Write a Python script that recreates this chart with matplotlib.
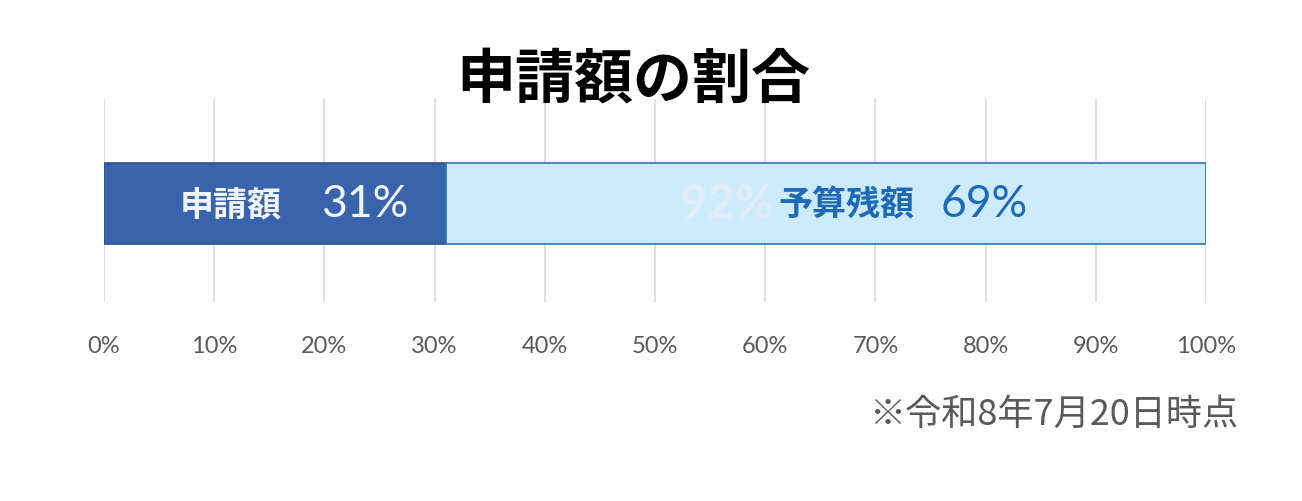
import matplotlib
matplotlib.use("Agg")
import matplotlib.pyplot as plt
from matplotlib.ticker import FixedLocator, FuncFormatter

plt.rcParams['font.family'] = ['Noto Sans CJK JP', 'DejaVu Sans']

title = "申請額の割合"
categories = ["申請額", "予算残額"]
values = [31, 69]
ghost_label = "92%"
ghost_pos = 56.5
note = "※令和8年7月20日時点"
ticks = list(range(0, 101, 10))

fig = plt.figure(figsize=(13.02, 5.02), dpi=100)
ax = fig.add_axes([0.0799, 0.3964, 0.8464, 0.4044])

fills = ["#3A63AD", "#CDEBFD"]
edges = ["#2F4F8A", "#2E75B6"]
txtcols = ["#F2F6FB", "#1C6AB9"]

left = 0
for i, (c, v) in enumerate(zip(categories, values)):
    ax.barh(0, v, left=left, height=0.4, color=fills[i], edgecolor=edges[i],
            linewidth=1.2, zorder=3)
    left += v

ax.set_xlim(0, 100)
ax.set_ylim(-0.485, 0.515)
ax.xaxis.set_major_locator(FixedLocator(ticks))
ax.xaxis.set_major_formatter(FuncFormatter(lambda x, p: f"{int(x)}%"))
ax.set_yticks([])
ax.grid(axis='x', color="#D9D9D9", linewidth=1.2, zorder=0)
for s in ax.spines.values():
    s.set_visible(False)
ax.tick_params(axis='x', length=0, pad=24, labelsize=17, labelcolor="#595959")
for lab in ax.get_xticklabels():
    lab.set_family(['Lato', 'DejaVu Sans'])

# ghost label
ax.text(ghost_pos, 0, ghost_label, ha='center', va='center', fontsize=34,
        fontweight='bold', color="#E1EEFA", family=['Lato', 'DejaVu Sans'], zorder=4)

# segment labels
starts = [0, values[0]]
name_off = [-4.0, 1.9]
pct_off = [8.2, 14.4]
for i, (c, v) in enumerate(zip(categories, values)):
    center = starts[i] + v / 2
    ax.text(center + name_off[i], 0, c, ha='center', va='center', fontsize=24.5,
            fontweight='bold', color=txtcols[i], zorder=5)
    ax.text(center + pct_off[i], 0, f"{v}%", ha='center', va='center', fontsize=32,
            color=txtcols[i], family=['Lato', 'DejaVu Sans'], zorder=5)

fig.text(0.486, 0.84, title, ha='center', va='center', fontsize=42.5, fontweight='bold',
         color="#000000")
fig.text(0.951, 0.173, note, ha='right', va='center', fontsize=26, color="#595959")

fig.savefig("out.png", dpi=100)
